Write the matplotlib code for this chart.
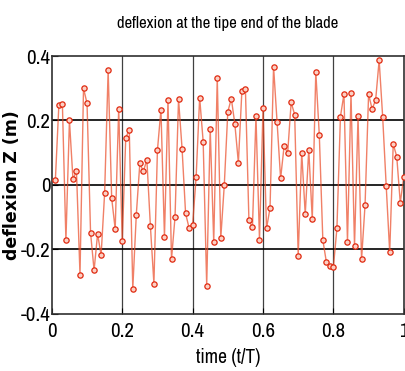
import numpy as np
import matplotlib.pyplot as plt

# time samples (t/T) and tip deflexion Z (m)
t = np.arange(1, 101) / 100.0
z = [0.015, 0.249, 0.250, -0.172, 0.200, 0.018, 0.043, -0.278, 0.300, 0.253,
     -0.148, -0.265, -0.152, -0.218, -0.025, 0.356, -0.041, -0.137, 0.237, -0.175,
     0.146, 0.172, -0.322, -0.092, 0.067, 0.042, 0.078, -0.127, -0.306, 0.107,
     0.234, -0.161, 0.263, -0.230, -0.100, 0.266, 0.113, -0.088, -0.134, -0.124,
     0.025, 0.271, 0.134, -0.312, 0.174, -0.178, 0.333, -0.165, 0.000, 0.227,
     0.268, 0.189, 0.069, 0.292, 0.298, -0.110, -0.131, 0.213, -0.170, 0.238,
     -0.135, -0.071, 0.367, 0.195, 0.020, 0.121, 0.098, 0.256, 0.218, -0.219,
     0.100, -0.091, 0.109, -0.107, 0.351, 0.154, -0.171, -0.239, -0.253, -0.255,
     -0.135, 0.212, 0.282, -0.177, 0.285, -0.190, 0.213, -0.231, -0.061, 0.281,
     0.236, 0.263, 0.387, 0.211, -0.002, -0.209, 0.127, 0.088, -0.055, 0.025]

xticks = [0, 0.2, 0.4, 0.6, 0.8, 1]
xticklabels = ['0', '0.2', '0.4', '0.6', '0.8', '1']
yticks = [-0.4, -0.2, 0, 0.2, 0.4]
yticklabels = ['-0.4', '-0.2', '0', '0.2', '0.4']

narrow = ['Archivo Narrow', 'Liberation Sans', 'DejaVu Sans']

fig = plt.figure(figsize=(4.05, 3.71), dpi=100)
ax = fig.add_axes([0.128, 0.154, 0.869, 0.695])

# grid lines
for v in [0.2, 0.4, 0.6, 0.8]:
    ax.axvline(v, color='#404040', lw=0.9, zorder=1)
for h in [-0.2, 0, 0.2]:
    ax.axhline(h, color='black', lw=1.2, zorder=1)

ax.plot(t, z, color='#ea4a26', lw=1.0, alpha=0.7, zorder=2)
ax.plot(t, z, 'o', ms=3.8, mfc='#fbd0c4', mec='#e02a10', mew=0.9, zorder=3)

ax.set_xlim(0, 1)
ax.set_ylim(-0.4, 0.4)
ax.set_xticks(xticks)
ax.set_xticklabels(xticklabels, family=narrow, fontsize=15)
ax.set_yticks(yticks)
ax.set_yticklabels(yticklabels, family=narrow, fontsize=15)
ax.tick_params(direction='in', length=4, width=0.8)
ax.tick_params(axis='x', pad=6)
ax.tick_params(axis='y', pad=1)
for s in ax.spines.values():
    s.set_color('#303030')
    s.set_linewidth(1.2)

ax.set_title('deflexion at the tipe end of the blade', family=narrow, fontsize=12, pad=20)
ax.set_xlabel('time (t/T)', family=narrow, fontsize=14, labelpad=5)
ax.set_ylabel('deflexion Z (m)', family='DejaVu Sans', fontweight='bold', fontsize=12.5)
ax.yaxis.set_label_coords(-0.088, 0.5)

plt.savefig('out.png', dpi=100)
